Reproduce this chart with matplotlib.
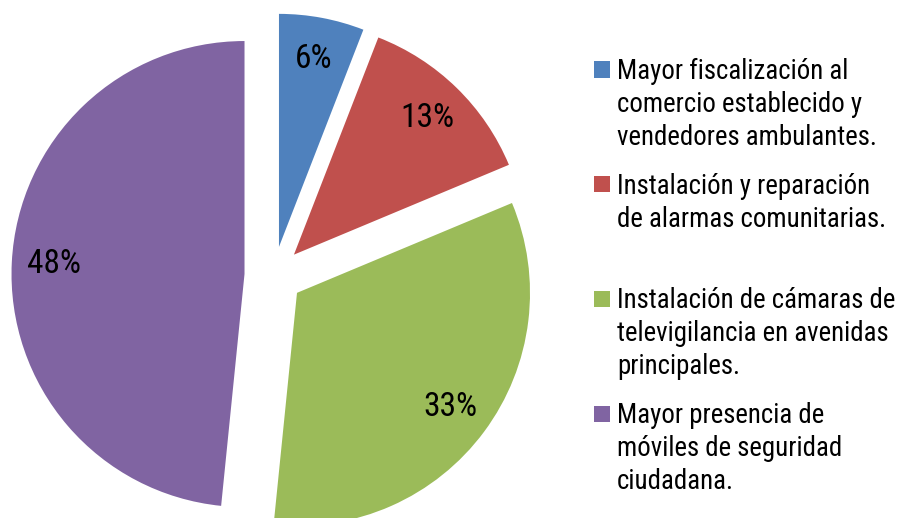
import matplotlib
matplotlib.use("Agg")
import matplotlib.pyplot as plt
from matplotlib.patches import Rectangle

# data (shares; labels round to 6/13/33/48)
labels = [
    "Mayor fiscalización al\ncomercio establecido y\nvendedores ambulantes.",
    "Instalación y reparación\nde alarmas comunitarias.",
    "Instalación de cámaras de\ntelevigilancia en avenidas\nprincipales.",
    "Mayor presencia de\nmóviles de seguridad\nciudadana.",
]
values = [5.9, 12.8, 32.9, 48.4]
colors = ["#4F81BD", "#C0504D", "#9BBB59", "#8064A2"]

font = ["Roboto Condensed", "DejaVu Sans"]
W, H = 900, 518
R = 233  # pie radius in pixels

fig = plt.figure(figsize=(W / 100, H / 100), dpi=100)
ax = fig.add_axes([0, 0, 1, 1])

# explode is in data units, so scale it by the radius
wedges, texts, autotexts = ax.pie(
    values,
    colors=colors,
    startangle=90,
    counterclock=False,
    explode=[0.125 * R] * len(values),
    center=(273.6, 242.5),
    radius=R,
    autopct="%1.0f%%",
    pctdistance=0.82,
    wedgeprops=dict(linewidth=0),
)
for t in autotexts:
    t.set_fontfamily(font)
    t.set_fontsize(24)
    t.set_color("black")

ax.set_xlim(0, W)
ax.set_ylim(0, H)
ax.set_aspect("equal")
ax.axis("off")

# legend drawn by hand, one line at a time
x_box, box = 594, 16
x_txt = 617
first_base = 79
slot = 114.7
line_h = 33
for i, (lab, col) in enumerate(zip(labels, colors)):
    base = first_base + i * slot
    fig.patches.append(Rectangle((x_box / W, 1 - (base - 1.5) / H), box / W, box / H,
                                 transform=fig.transFigure, facecolor=col, edgecolor="none"))
    for j, line in enumerate(lab.split("\n")):
        fig.text(x_txt / W, 1 - (base + j * line_h) / H, line, fontsize=19.4,
                 family=font, va="baseline", ha="left", color="black")

fig.savefig("out.png", dpi=100)
